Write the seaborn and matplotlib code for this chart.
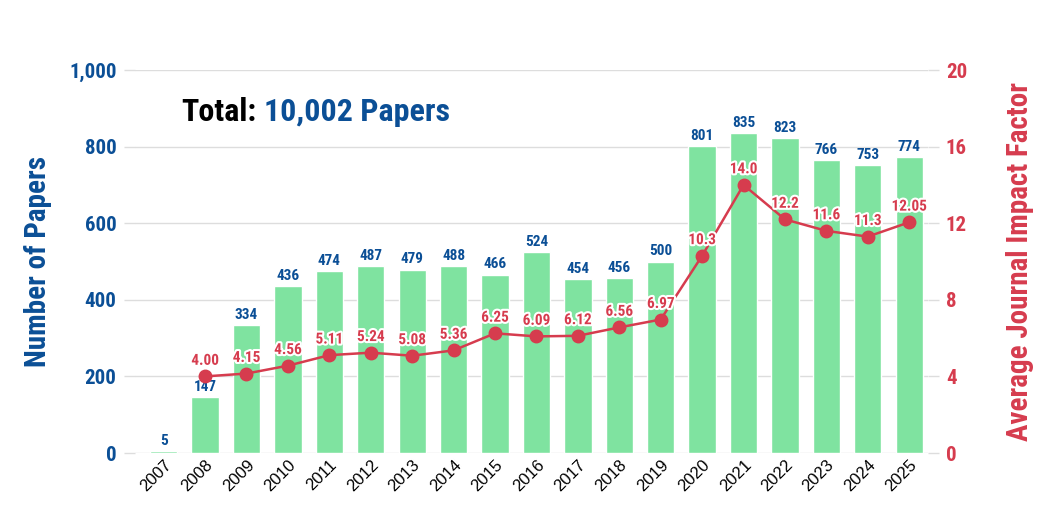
import pandas as pd
import seaborn as sns
import matplotlib.pyplot as plt
import matplotlib.patheffects as pe

sns.set_theme(style="white")
plt.rcParams['font.family'] = ['Roboto Condensed', 'DejaVu Sans']

# ---------------------------------------------------------------
# datos
# ---------------------------------------------------------------
years = [str(y) for y in range(2007, 2026)]
papers = [5, 147, 334, 436, 474, 487, 479, 488, 466, 524, 454, 456, 500,
          801, 835, 823, 766, 753, 774]
if_years = years[1:]
impact = [4.00, 4.15, 4.56, 5.11, 5.24, 5.08, 5.36, 6.25, 6.09, 6.12, 6.56,
          6.97, 10.3, 14.0, 12.2, 11.6, 11.3, 12.05]
impact_labels = ["4.00", "4.15", "4.56", "5.11", "5.24", "5.08", "5.36", "6.25",
                 "6.09", "6.12", "6.56", "6.97", "10.3", "14.0", "12.2", "11.6",
                 "11.3", "12.05"]

BLUE = "#0B4F96"
RED = "#D63C4E"
GREEN = "#7FE3A0"

df = pd.DataFrame({"Year": years, "Papers": papers})

fig = plt.figure(figsize=(10.52, 5.21), dpi=100)
ax = fig.add_axes([0.128, 0.1305, 0.754, 0.7351])

sns.barplot(data=df, x="Year", y="Papers", color=GREEN, width=0.66,
            saturation=1, ax=ax)
for x, v in enumerate(papers):
    ax.text(x, v + 8, str(v), ha="center", va="bottom", color=BLUE,
            fontsize=11, fontweight="bold")

ax.set_ylim(0, 1000)
ax.set_xlim(-0.7, 18.45)
ax.set_yticks(range(0, 1001, 200))
ax.set_yticklabels([f"{v:,}" for v in range(0, 1001, 200)], color=BLUE,
                   fontsize=15, fontweight="bold")
ax.yaxis.grid(True, color="#DDDDDD", lw=1)
ax.set_axisbelow(True)
for s in ax.spines.values():
    s.set_visible(False)
ax.tick_params(axis="y", length=8, color="#DDDDDD", width=1, pad=5)
ax.tick_params(axis="x", length=0, pad=3)
plt.setp(ax.get_xticklabels(), rotation=45, ha="right", rotation_mode="anchor",
         fontsize=12, color="black", family="Liberation Sans")
ax.set_xlabel("")
ax.set_ylabel("Number of Papers", color=BLUE, fontsize=21, fontweight="bold",
              labelpad=12)

ax2 = ax.twinx()
idx = [years.index(y) for y in if_years]
ax2.plot(idx, impact, color=RED, lw=1.8, marker="o", markersize=9, zorder=5)
for x, v, lab in zip(idx, impact, impact_labels):
    ax2.text(x, v + 0.45, lab, ha="center", va="bottom", color=RED,
             fontsize=11, fontweight="bold", zorder=6,
             path_effects=[pe.withStroke(linewidth=3, foreground="white")])
ax2.set_ylim(0, 20)
ax2.set_yticks(range(0, 21, 4))
ax2.set_yticklabels([str(v) for v in range(0, 21, 4)], color=RED, fontsize=15,
                    fontweight="bold")
for s in ax2.spines.values():
    s.set_visible(False)
ax2.tick_params(axis="y", length=8, color="#DDDDDD", width=1, pad=5)
ax2.set_ylabel("Average Journal Impact Factor", color=RED, fontsize=21,
               fontweight="bold", labelpad=28)

# titulo en dos colores
t1 = fig.text(0.172, 0.785, "Total:", color="black", fontsize=23,
              fontweight="bold", va="center")
fig.canvas.draw()
bb = t1.get_window_extent().transformed(fig.transFigure.inverted())
fig.text(bb.x1 + 0.008, 0.785, "10,002 Papers", color=BLUE, fontsize=23,
         fontweight="bold", va="center")

fig.savefig("out.png", dpi=100)
